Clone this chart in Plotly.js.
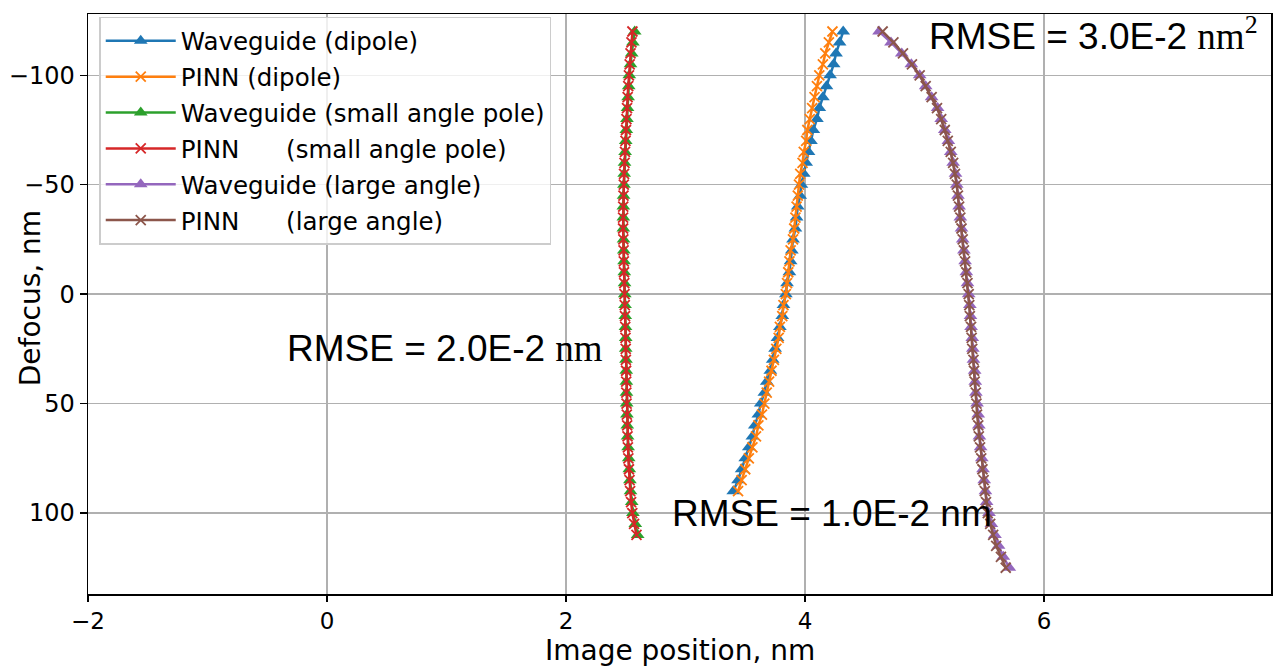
<!DOCTYPE html>
<html>
<head>
<meta charset="utf-8">
<script src="https://cdn.plot.ly/plotly-3.0.1.min.js"></script>
<style>html,body{margin:0;padding:0;background:#fff;}#chart{width:1284px;height:668px;}</style>
</head>
<body>
<div id="chart"></div>
<script>
// ---- data ----
const defocusDipole = [-120,-115,-110,-105,-100,-95,-90,-85,-80,-75,-70,-65,-60,-55,-50,-45,-40,-35,-30,-25,-20,-15,-10,-5,0,5,10,15,20,25,30,35,40,45,50,55,60,65,70,75,80,85,90];
const waveguideDipole = [4.32,4.29,4.26,4.24,4.21,4.18,4.15,4.12,4.10,4.07,4.05,4.03,4.01,3.99,3.97,3.96,3.94,3.93,3.92,3.90,3.89,3.88,3.87,3.85,3.84,3.82,3.81,3.79,3.77,3.75,3.73,3.71,3.68,3.66,3.63,3.61,3.58,3.56,3.53,3.50,3.47,3.44,3.40];
const pinnDipole = [4.23,4.20,4.17,4.15,4.12,4.10,4.08,4.06,4.04,4.02,4.01,3.99,3.98,3.96,3.95,3.94,3.93,3.92,3.91,3.90,3.88,3.87,3.86,3.85,3.84,3.82,3.81,3.79,3.78,3.76,3.74,3.72,3.70,3.68,3.66,3.64,3.61,3.59,3.56,3.53,3.50,3.47,3.44];

const defocusSmall = [-120,-115,-110,-105,-100,-95,-90,-85,-80,-75,-70,-65,-60,-55,-50,-45,-40,-35,-30,-25,-20,-15,-10,-5,0,5,10,15,20,25,30,35,40,45,50,55,60,65,70,75,80,85,90,95,100,105,110];
const waveguideSmall = [2.575,2.56,2.55,2.54,2.53,2.525,2.52,2.515,2.51,2.505,2.50,2.495,2.49,2.487,2.485,2.482,2.48,2.48,2.48,2.482,2.484,2.486,2.488,2.49,2.492,2.494,2.496,2.498,2.50,2.50,2.502,2.504,2.505,2.506,2.508,2.51,2.513,2.516,2.52,2.525,2.53,2.535,2.54,2.55,2.56,2.58,2.60];
const pinnSmall = [2.556,2.548,2.54,2.533,2.527,2.521,2.516,2.511,2.506,2.502,2.498,2.494,2.49,2.486,2.484,2.481,2.479,2.478,2.478,2.48,2.482,2.484,2.486,2.488,2.49,2.492,2.494,2.496,2.498,2.50,2.501,2.503,2.504,2.505,2.507,2.509,2.512,2.515,2.518,2.522,2.527,2.532,2.537,2.545,2.555,2.57,2.59];

const defocusLarge = [-120,-115,-110,-105,-100,-95,-90,-85,-80,-75,-70,-65,-60,-55,-50,-45,-40,-35,-30,-25,-20,-15,-10,-5,0,5,10,15,20,25,30,35,40,45,50,55,60,65,70,75,80,85,90,95,100,105,110,115,120,125];
const waveguideLarge = [4.62,4.72,4.81,4.89,4.96,5.01,5.06,5.11,5.14,5.17,5.20,5.22,5.24,5.26,5.27,5.28,5.29,5.30,5.31,5.32,5.33,5.34,5.35,5.36,5.37,5.38,5.385,5.39,5.40,5.405,5.41,5.42,5.425,5.43,5.44,5.45,5.455,5.46,5.47,5.48,5.49,5.50,5.51,5.52,5.54,5.56,5.59,5.62,5.66,5.71];
const pinnLarge = [4.65,4.74,4.82,4.895,4.96,5.01,5.06,5.105,5.14,5.17,5.195,5.22,5.24,5.255,5.27,5.28,5.29,5.30,5.31,5.32,5.33,5.34,5.35,5.36,5.37,5.375,5.38,5.39,5.395,5.40,5.41,5.415,5.42,5.43,5.435,5.44,5.45,5.455,5.465,5.475,5.485,5.495,5.505,5.515,5.53,5.55,5.575,5.60,5.64,5.68];

const seriesNames = ["Waveguide (dipole)", "PINN (dipole)", "Waveguide (small angle pole)", "PINN\u00a0\u00a0\u00a0\u00a0\u00a0\u00a0(small angle pole)", "Waveguide (large angle)", "PINN\u00a0\u00a0\u00a0\u00a0\u00a0\u00a0(large angle)"];
const seriesColors = ["#1f77b4", "#ff7f0e", "#2ca02c", "#d62728", "#9467bd", "#8c564b"];

const rmseLabels = ["RMSE = 2.0E-2 <span style=\"font-family:Liberation Serif\">nm</span>", "RMSE = 1.0E-2 nm", "RMSE = 3.0E-2 <span style=\"font-family:Liberation Serif\">nm<sup>2</sup></span>"];
const rmseX = [-0.35, 2.87, 5.02];
const rmseY = [25, 100, -119];

// ---- traces ----
const xs = [waveguideDipole, pinnDipole, waveguideSmall, pinnSmall, waveguideLarge, pinnLarge];
const ys = [defocusDipole, defocusDipole, defocusSmall, defocusSmall, defocusLarge, defocusLarge];
const traces = xs.map((x, i) => {
  const isTri = (i % 2 === 0);
  return {
    type: 'scatter', mode: 'lines+markers',
    x: x, y: ys[i], name: seriesNames[i], legendgroup: 'g' + i,
    line: {color: seriesColors[i], width: 2.5},
    marker: isTri
      ? {symbol: 'triangle-up', size: 12, color: seriesColors[i], line: {width: 0}}
      : {symbol: 'x-thin', size: 10, color: seriesColors[i], line: {width: 1.8, color: seriesColors[i]}}
  };
});

const annotations = rmseLabels.map((t, i) => ({
  x: rmseX[i], y: rmseY[i], xref: 'x', yref: 'y', text: t, showarrow: false,
  xanchor: 'left', yanchor: 'middle',
  font: {family: 'Liberation Sans, Arial, sans-serif', size: 37, color: '#000'}
}));
annotations.push({
  xref: 'paper', yref: 'paper', x: -0.049, y: 0.51, text: 'Defocus, nm', textangle: -90,
  showarrow: false, xanchor: 'center', yanchor: 'middle',
  font: {family: 'DejaVu Sans', size: 28, color: '#000'}
});
annotations.push({
  xref: 'paper', yref: 'paper', x: 0.5, y: -0.097, text: 'Image position, nm',
  showarrow: false, xanchor: 'center', yanchor: 'middle',
  font: {family: 'DejaVu Sans', size: 28, color: '#000'}
});

const layout = {
  width: 1284, height: 668,
  margin: {l: 88, r: 13, t: 14, b: 74},
  paper_bgcolor: '#fff', plot_bgcolor: '#fff',
  font: {family: 'DejaVu Sans', color: '#000'},
  showlegend: true,
  xaxis: {
    range: [-2, 7.9], tickvals: [-2, 0, 2, 4, 6],
    showgrid: true, gridcolor: '#b0b0b0', gridwidth: 1.3,
    zeroline: false, showline: true, mirror: true, linecolor: '#000', linewidth: 1.5,
    ticks: 'outside', ticklen: 6, tickwidth: 1.5, tickcolor: '#000',
    tickfont: {family: 'DejaVu Sans', size: 23, color: '#000'}
  },
  yaxis: {
    range: [137, -128], tickvals: [-100, -50, 0, 50, 100],
    showgrid: true, gridcolor: '#b0b0b0', gridwidth: 1.3,
    zeroline: false, showline: true, mirror: true, linecolor: '#000', linewidth: 1.5,
    ticks: 'outside', ticklen: 7, tickwidth: 1.5, tickcolor: '#000',
    tickfont: {family: 'DejaVu Sans', size: 24, color: '#000'}
  },
  legend: {
    x: 0.0095, y: 0.995, xanchor: 'left', yanchor: 'top',
    bgcolor: 'rgba(255,255,255,0.8)', bordercolor: '#cccccc', borderwidth: 1.5,
    font: {family: 'DejaVu Sans', size: 24.5, color: '#000'},
    traceorder: 'grouped', tracegroupgap: 1, itemwidth: 70
  },
  annotations: annotations
};

Plotly.newPlot('chart', traces, layout, {staticPlot: true, displayModeBar: false});
</script>
</body>
</html>
